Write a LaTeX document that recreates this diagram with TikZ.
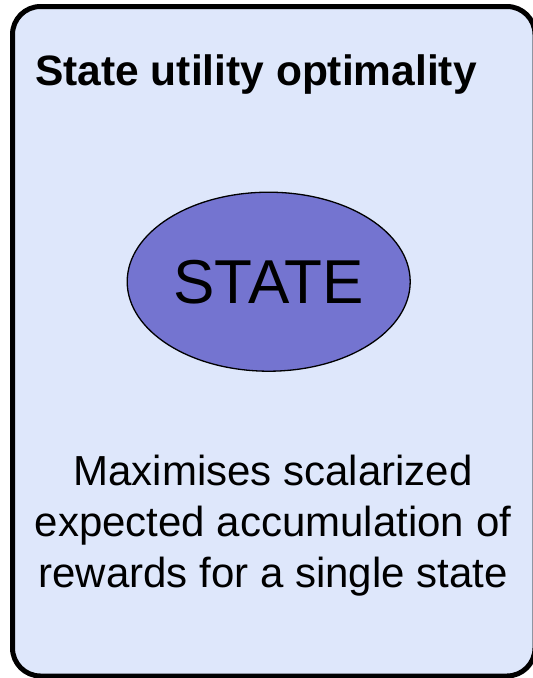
\documentclass[tikz,border=0pt]{standalone}
\usepackage{fontspec}
\setmainfont{Liberation Sans}
\usetikzlibrary{shapes.geometric,positioning}

\definecolor{panelblue}{RGB}{222,231,251}
\definecolor{stateblue}{RGB}{116,116,208}

\begin{document}
\begin{tikzpicture}[
    x=1pt, y=-1pt,
    panel/.style={rectangle, draw=black, line width=5pt, rounded corners=28pt, fill=panelblue, minimum width=522.5pt, minimum height=669.5pt, inner sep=0pt},
    statenode/.style={ellipse, draw=black, line width=1.3pt, fill=stateblue, minimum width=283pt, minimum height=179pt, inner sep=0pt, font=\fontsize{62}{62}\selectfont},
    heading/.style={font=\fontsize{42.5}{42.5}\selectfont\bfseries, anchor=base west, inner sep=0pt},
    remark/.style={font=\fontsize{42}{51}\selectfont, align=center, inner sep=0pt}
]
\useasboundingbox (0,0) rectangle (533,678);
\clip (0,0) rectangle (533,678);

% Frame
\node[panel] (panel) at (273.75,341.25) {};

% Title
\node[heading] (title) at (35,85) {State utility optimality};

% State
\node[statenode] (state) at (268.7,281.7) {STATE};

% Description (base is the last line)
\node[remark, anchor=base] (remark) at (273,587) {Maximises scalarized\\expected accumulation of\\rewards for a single state};

\end{tikzpicture}
\end{document}
